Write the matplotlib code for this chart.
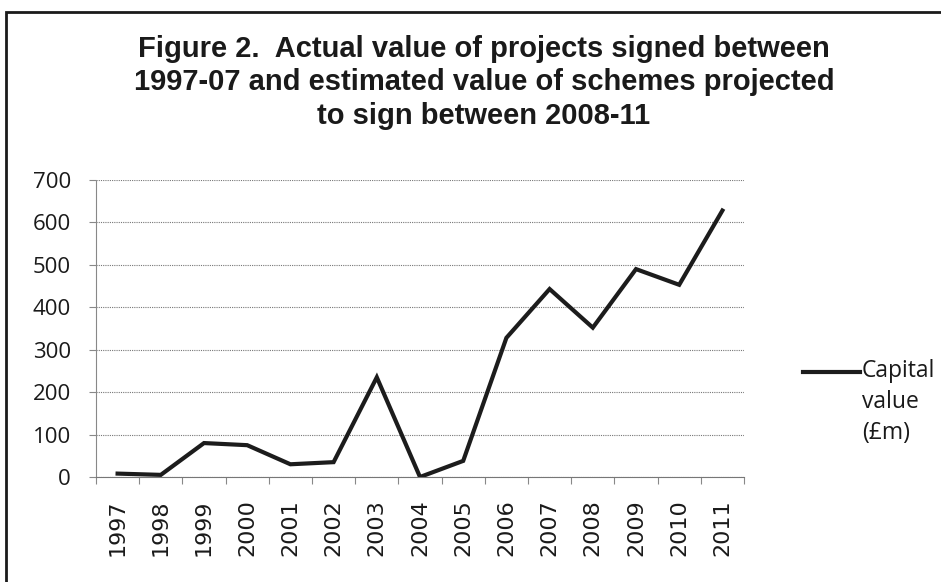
import matplotlib
matplotlib.use('Agg')
import matplotlib.pyplot as plt

# data
years = ['1997', '1998', '1999', '2000', '2001', '2002', '2003', '2004',
         '2005', '2006', '2007', '2008', '2009', '2010', '2011']
capital_value = [8, 5, 80, 75, 30, 35, 235, 0, 38, 328, 443, 352, 490, 453, 628]
yticks = [0, 100, 200, 300, 400, 500, 600, 700]

title = ('Figure 2.  Actual value of projects signed between\n'
         '1997-07 and estimated value of schemes projected\n'
         'to sign between 2008-11')

fig = plt.figure(figsize=(9.41, 5.82), dpi=100)
ax = fig.add_axes([96 / 941, 1 - 477 / 582, 648 / 941, 297 / 582])

x = list(range(len(years)))
ax.plot(x, capital_value, '-', lw=3.0, color='#1c1c1c', solid_joinstyle='miter')

ax.set_xlim(-0.5, len(years) - 0.5)
ax.set_ylim(0, 700)
ax.set_yticks(yticks)
ax.set_yticklabels([str(v) for v in yticks], fontsize=16, family='Open Sans',
                   color='#1a1a1a')

# category labels sit between the tick marks
ax.set_xticks(x)
ax.set_xticklabels(years, rotation=90, fontsize=16, family='DejaVu Sans',
                   color='#1a1a1a')
ax.set_xticks([i - 0.5 for i in range(len(years) + 1)], minor=True)
ax.tick_params(axis='x', which='major', length=0, pad=16)
ax.tick_params(axis='x', which='minor', length=5, color='#888888', width=0.8)
ax.tick_params(axis='y', length=5, color='#888888', width=0.8, pad=13)

ax.grid(axis='y', color='#777777', lw=0.8, ls=(0, (1, 1)))
for s in ['top', 'right']:
    ax.spines[s].set_visible(False)
ax.spines['left'].set_color('#888888')
ax.spines['left'].set_linestyle((0, (1, 1)))
ax.spines['left'].set_linewidth(0.8)
ax.spines['bottom'].set_color('#777777')
ax.spines['bottom'].set_linewidth(0.8)
ax.set_axisbelow(True)

# legend drawn by hand to the right
fig.add_artist(plt.Line2D([803 / 941, 860 / 941], [1 - 372 / 582, 1 - 372 / 582],
                          lw=3.0, color='#1c1c1c'))
fig.text(862 / 941, 1 - 359 / 582, 'Capital\nvalue\n(£m)', fontsize=16.5,
         family='Open Sans', color='#1a1a1a', va='top', ha='left',
         linespacing=1.38)

fig.text(484 / 941, 1 - 35 / 582, title, ha='center', va='top', fontsize=21,
         fontweight='bold', family=['Liberation Sans', 'DejaVu Sans'],
         linespacing=1.24, color='#1a1a1a')

# frame: only the top and left edges show in the scan
fig.add_artist(plt.Line2D([6 / 941, 6 / 941, 1.0], [0.0, 1 - 12 / 582, 1 - 12 / 582],
                          lw=2.0, color='#1a1a1a', solid_joinstyle='miter'))

fig.savefig('out.png', dpi=100)
